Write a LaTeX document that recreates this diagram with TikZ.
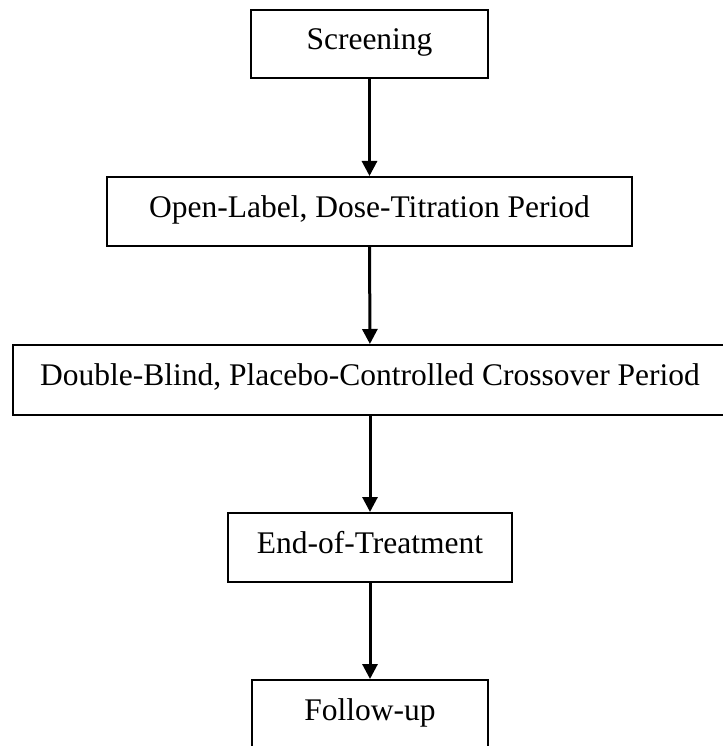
\documentclass[tikz,border=0pt]{standalone}
\usepackage{fontspec}
\setmainfont{Liberation Serif}
\usetikzlibrary{arrows.meta}
\begin{document}
\begin{tikzpicture}[x=1pt,y=-1pt,
  stage/.style={draw=black, line width=2pt, fill=white, inner sep=0pt,
    font=\fontsize{31.5}{36}\selectfont, text height=22pt, text depth=11pt,
    minimum height=#1},
  stage/.default=69pt,
  flow/.style={line width=3pt, -{Triangle[length=15pt,width=15pt]}}]
\useasboundingbox (0,0) rectangle (722,746);
\node[stage=68pt, minimum width=237pt] (s) at (369.5,44) {Screening};
\node[stage, minimum width=525pt] (o) at (369.5,211.5) {Open-Label, Dose-Titration Period};
\node[stage=70pt, minimum width=714pt] (d) at (370,380) {Double-Blind, Placebo-Controlled Crossover Period};
\node[stage, minimum width=284pt] (e) at (370,547.5) {End-of-Treatment};
\node[stage, minimum width=236pt] (f) at (370,714.5) {Follow-up};
\draw[flow] (s) -- (o);
\draw[flow] (o) -- (d);
\draw[flow] (d) -- (e);
\draw[flow] (e) -- (f);
\end{tikzpicture}
\end{document}
